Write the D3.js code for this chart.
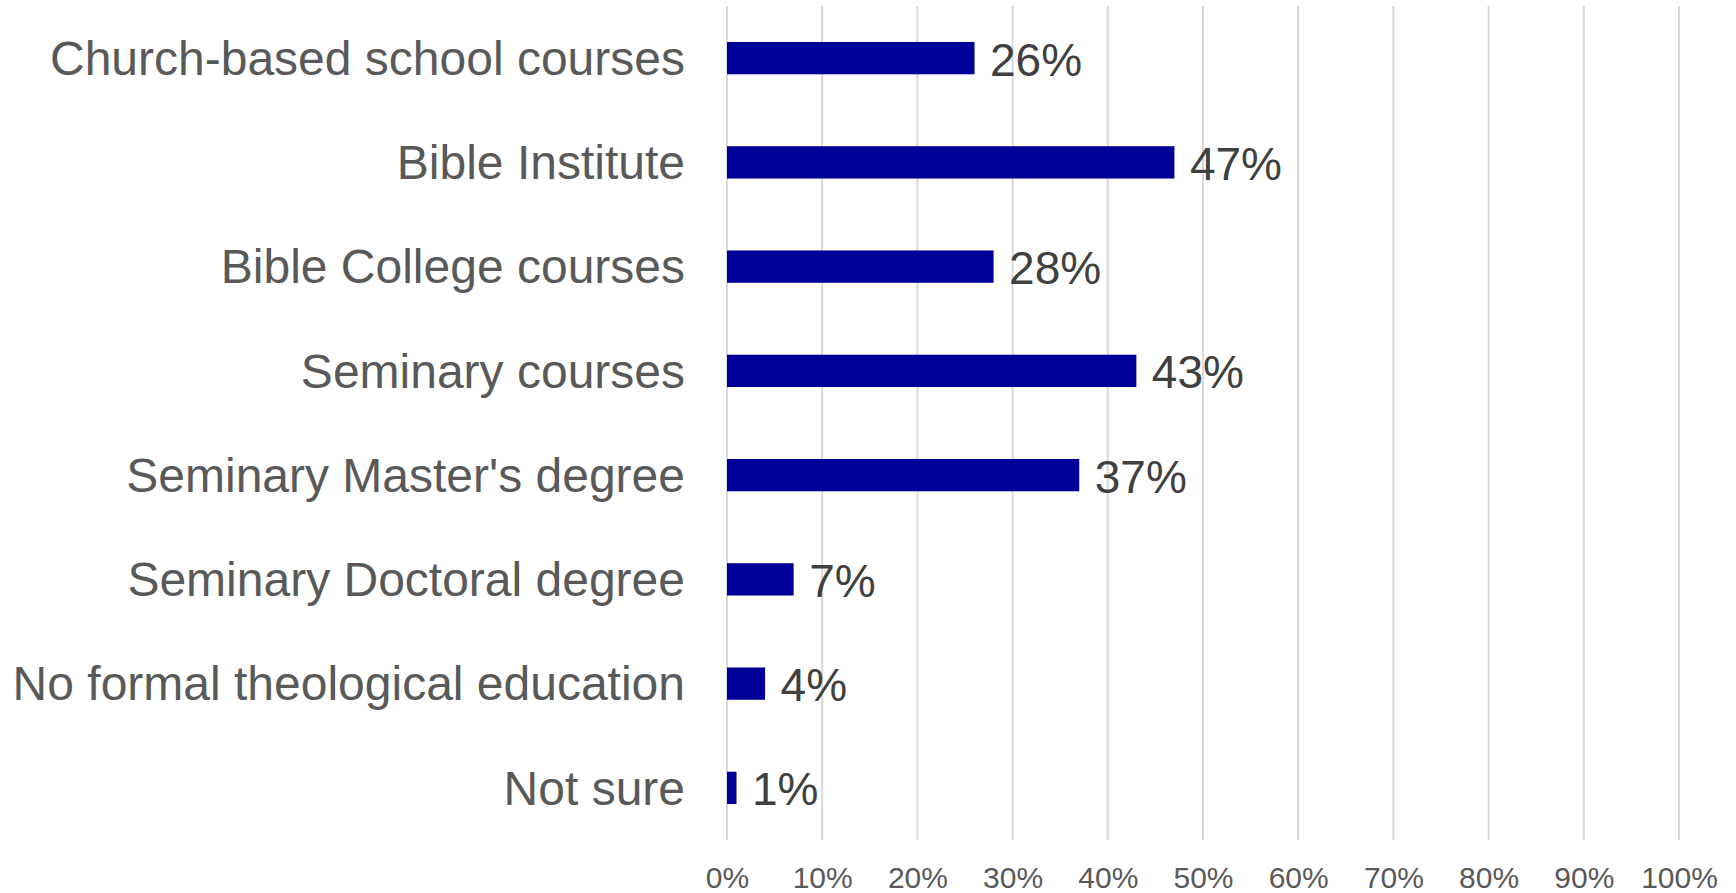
<!DOCTYPE html>
<html>
<head>
<meta charset="utf-8">
<script src="https://cdn.jsdelivr.net/npm/d3@7"></script>
<style>
  html, body { margin: 0; padding: 0; background: #ffffff; }
  svg { display: block; }
</style>
</head>
<body>
<svg id="chart" width="1736" height="893"></svg>
<script>
// Training categories, top to bottom
const categories = [
  "Church-based school courses",
  "Bible Institute",
  "Bible College courses",
  "Seminary courses",
  "Seminary Master's degree",
  "Seminary Doctoral degree",
  "No formal theological education",
  "Not sure"
];
// Share of respondents for each category
const values = [0.26, 0.47, 0.28, 0.43, 0.37, 0.07, 0.04, 0.01];
// Axis ticks
const tickValues = [0, 0.1, 0.2, 0.3, 0.4, 0.5, 0.6, 0.7, 0.8, 0.9, 1.0];

const data = categories.map((c, i) => ({ category: c, value: values[i] }));

const svg = d3.select("#chart");
const plotLeft = 727, plotRight = 1679, plotTop = 6, plotBottom = 840;

const x = d3.scaleLinear().domain([0, 1]).range([plotLeft, plotRight]);
const y = d3.scaleBand()
  .domain(categories)
  .range([plotTop, plotBottom])
  .paddingInner(0.69)
  .paddingOuter(0.345);

const pct = d3.format(".0%");

// Vertical gridlines
svg.append("g")
  .selectAll("line")
  .data(tickValues)
  .join("line")
  .attr("x1", d => x(d))
  .attr("x2", d => x(d))
  .attr("y1", plotTop)
  .attr("y2", plotBottom)
  .attr("stroke", "#d9d9d9")
  .attr("stroke-width", 2);

// Bottom axis labels
const xAxis = d3.axisBottom(x).tickValues(tickValues).tickFormat(pct).tickSize(0).tickPadding(0);
const gx = svg.append("g").attr("transform", `translate(0,${plotBottom})`).call(xAxis);
gx.select(".domain").remove();
gx.selectAll("text")
  .attr("y", 48)
  .attr("dy", null)
  .attr("fill", "#595959")
  .style("font-family", "'Liberation Sans', Arial, sans-serif")
  .style("font-size", "30px");

// Bars
svg.append("g")
  .selectAll("rect")
  .data(data)
  .join("rect")
  .attr("x", x(0))
  .attr("y", d => y(d.category))
  .attr("width", d => x(d.value) - x(0))
  .attr("height", y.bandwidth())
  .attr("fill", "#000099");

// Value labels
svg.append("g")
  .selectAll("text")
  .data(data)
  .join("text")
  .attr("x", d => x(d.value) + 15.5)
  .attr("y", d => y(d.category) + y.bandwidth() / 2 + 17.4)
  .attr("fill", "#404040")
  .style("font-family", "'Liberation Sans', Arial, sans-serif")
  .style("font-size", "46px")
  .text(d => pct(d.value));

// Category labels
const yAxis = d3.axisLeft(y).tickSize(0).tickPadding(0);
const gy = svg.append("g").attr("transform", `translate(685,0)`).call(yAxis);
gy.select(".domain").remove();
gy.selectAll("text")
  .attr("x", 0)
  .attr("dy", "0.35em")
  .attr("fill", "#595959")
  .style("font-family", "'Liberation Sans', Arial, sans-serif")
  .style("font-size", "48px");
</script>
</body>
</html>
